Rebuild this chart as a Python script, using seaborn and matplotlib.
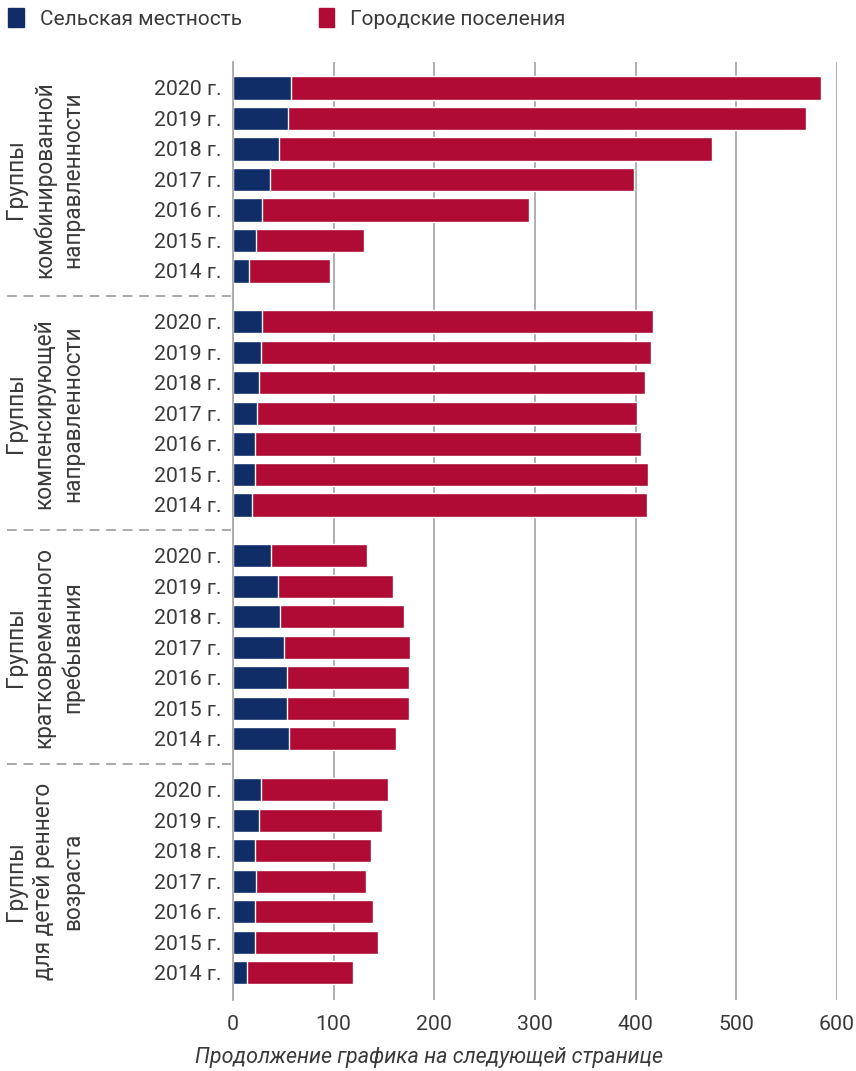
import numpy as np
import pandas as pd
import matplotlib.pyplot as plt
import matplotlib.transforms as mtransforms
from matplotlib.patches import Patch
import seaborn as sns

# --- data ---
groups = [
    "Группы\nкомбинированной\nнаправленности",
    "Группы\nкомпенсирующей\nнаправленности",
    "Группы\nкратковременного\nпребывания",
    "Группы\nдля детей реннего\nвозраста",
]
years = ["2020 г.", "2019 г.", "2018 г.", "2017 г.", "2016 г.", "2015 г.", "2014 г."]

rural = [
    [58, 55, 46, 37, 29, 23, 16],
    [29, 28, 26, 24, 22, 22, 19],
    [38, 45, 47, 51, 54, 54, 56],
    [28, 26, 22, 23, 22, 22, 14],
]
total = [
    [584, 569, 476, 398, 294, 130, 96],
    [417, 415, 409, 401, 405, 412, 411],
    [133, 159, 170, 176, 175, 175, 162],
    [154, 148, 137, 132, 139, 144, 119],
]

RED = "#af0b35"
BLUE = "#102d68"
TEXT = "#3a3a3a"
GRID = "#a9a9a9"
GROUP_STEP = 7.67

sns.set_theme(style="white")
plt.rcParams["font.family"] = ["Roboto", "DejaVu Sans"]

rows = []
for g, name in enumerate(groups):
    for i, yr in enumerate(years):
        rows.append({"group": name, "year": yr, "pos": g * GROUP_STEP + i,
                     "rural": rural[g][i], "total": total[g][i]})
df = pd.DataFrame(rows)

fig = plt.figure(figsize=(8.56, 10.71), dpi=100)
ax = fig.add_axes([233 / 856, 1 - 1000 / 1071, 604 / 856, 938 / 1071])

# total (urban on top of rural) first, rural drawn over it
sns.barplot(data=df, x="total", y="pos", orient="y", native_scale=True,
            color=RED, saturation=1, width=0.76, errorbar=None, ax=ax)
sns.barplot(data=df, x="rural", y="pos", orient="y", native_scale=True,
            color=BLUE, saturation=1, width=0.76, errorbar=None, ax=ax)

ax.set_xlim(0, 600)
ax.set_ylim(29.9, -0.85)
ax.set_xticks(range(0, 601, 100))
ax.set_yticks(df["pos"])
ax.set_yticklabels(df["year"])
ax.set_xlabel("")
ax.set_ylabel("")
ax.tick_params(axis="y", length=0, pad=8, labelsize=15.3, labelcolor=TEXT)
ax.tick_params(axis="x", length=0, pad=11, labelsize=15.3, labelcolor=TEXT)
ax.xaxis.grid(True, color=GRID, linewidth=1.3)
ax.set_axisbelow(True)
for s in ["top", "right", "bottom"]:
    ax.spines[s].set_visible(False)
ax.spines["left"].set_color(GRID)
ax.spines["left"].set_linewidth(1.3)

# group labels and dashed separators on the left
trans = mtransforms.blended_transform_factory(ax.transAxes, ax.transData)
for g, name in enumerate(groups):
    ax.text(-0.313, g * GROUP_STEP + 3, name, transform=trans, rotation=90,
            ha="center", va="center", multialignment="center",
            fontsize=16.3, color=TEXT, linespacing=1.3)
    if g > 0:
        ysep = g * GROUP_STEP - (GROUP_STEP - 6) / 2
        ax.plot([-0.374, -0.004], [ysep, ysep], transform=trans, clip_on=False,
                color=GRID, linewidth=1.4, linestyle=(0, (5, 3.5)))

handles = [Patch(color=BLUE, label="Сельская местность"),
           Patch(color=RED, label="Городские поселения")]
fig.legend(handles=handles, loc="upper left", bbox_to_anchor=(0.0, 1.0),
           ncol=2, frameon=False, fontsize=15, handlelength=0.75,
           handleheight=1.0, handletextpad=0.75, columnspacing=3.7,
           borderaxespad=0.0, borderpad=0.4, labelcolor=TEXT)

fig.text(0.501, 1 - 1058 / 1071, "Продолжение графика на следующей странице",
         ha="center", va="center", style="italic", fontsize=15.5, color=TEXT)

fig.savefig("out.png", dpi=100)
